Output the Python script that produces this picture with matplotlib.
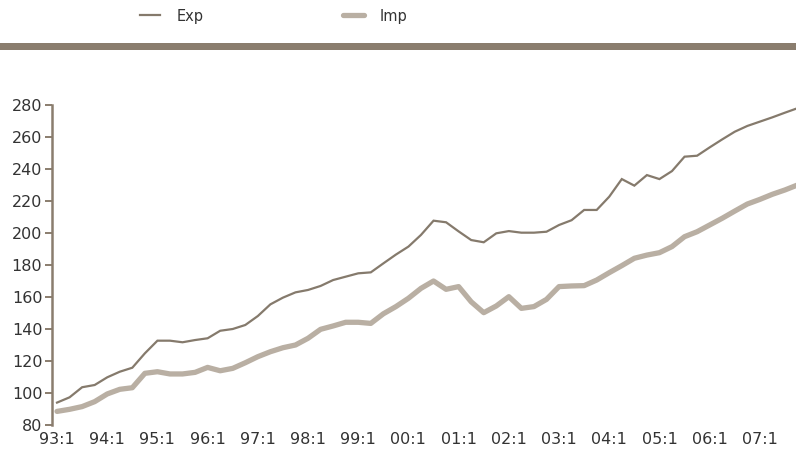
import matplotlib
matplotlib.use('Agg')
import matplotlib.pyplot as plt
from matplotlib.patches import Rectangle

# Quarterly index values, 93:1 .. 07:4
EXP = [
    94.0, 97.3, 103.6, 105.0,
    109.8, 113.3, 115.8, 124.8,
    132.7, 132.7, 131.7, 133.1,
    134.2, 138.9, 140.0, 142.5,
    148.1, 155.4, 159.6, 162.9,
    164.4, 166.9, 170.6, 172.7,
    174.8, 175.4, 181.0, 186.5,
    191.5, 198.8, 207.7, 206.7,
    201.0, 195.6, 194.2, 199.8,
    201.2, 200.2, 200.2, 200.8,
    205.0, 208.0, 214.4, 214.4,
    222.7, 233.7, 229.6, 236.2,
    233.7, 238.7, 247.7, 248.3,
    253.5, 258.5, 263.3, 266.9,
    269.6, 272.3, 275.2, 278.0,
]
IMP = [
    88.5, 89.8, 91.5, 94.6,
    99.4, 102.3, 103.3, 112.3,
    113.3, 111.9, 111.9, 112.9,
    116.0, 113.9, 115.4, 118.9,
    122.7, 125.8, 128.3, 130.0,
    134.2, 139.8, 141.9, 144.2,
    144.2, 143.5, 149.5, 154.0,
    159.2, 165.4, 170.0, 164.8,
    166.5, 157.0, 150.2, 154.4,
    160.2, 152.9, 154.0, 158.5,
    166.5, 166.9, 167.1, 170.6,
    175.2, 179.6, 184.2, 186.2,
    187.7, 191.5, 197.7, 200.8,
    205.0, 209.2, 213.7, 218.1,
    221.0, 224.2, 226.9, 230.0,
]
YEARS = list(range(1993, 2008))
QUARTERS = [f'{y % 100:02d}:{q}' for y in YEARS for q in range(1, 5)]

EXP_COLOR = '#857a6c'
IMP_COLOR = '#b9afa3'
SPINE_COLOR = '#8a7d6e'
TEXT_COLOR = '#333333'

W, H = 796, 455
fig = plt.figure(figsize=(W / 100, H / 100), dpi=100)
ax = fig.add_axes([52 / W, 1 - 425 / H, 745.5 / W, 320 / H])

x = list(range(len(QUARTERS)))
l_exp, = ax.plot(x, EXP, color=EXP_COLOR, lw=1.6, label='Exp',
                 solid_joinstyle='miter')
l_imp, = ax.plot(x, IMP, color=IMP_COLOR, lw=3.8, label='Imp',
                 solid_capstyle='round')

ax.set_xlim(-0.4, 59)
ax.set_ylim(80, 280)
ax.set_yticks(range(80, 281, 20))
ax.set_xticks(x[::4])
ax.set_xticklabels(QUARTERS[::4])

for side in ('top', 'right', 'bottom'):
    ax.spines[side].set_visible(False)
ax.spines['left'].set_color(SPINE_COLOR)
ax.spines['left'].set_linewidth(1.8)
ax.tick_params(axis='y', length=5, width=1.4, color=SPINE_COLOR,
               labelsize=11.5, labelcolor=TEXT_COLOR, pad=2)
ax.tick_params(axis='x', length=0, labelsize=11.5, labelcolor=TEXT_COLOR,
               pad=5)

# header band
fig.add_artist(Rectangle((0, 1 - 50 / H), 1, 7 / H, transform=fig.transFigure,
                         color=SPINE_COLOR, lw=0))

fig.legend(handles=[l_exp, l_imp], loc='center left',
           bbox_to_anchor=(140 / W, 1 - 16 / H), ncol=2, frameon=False,
           borderpad=0, borderaxespad=0, fontsize=10.5,
           handlelength=1.4, handletextpad=1.1, columnspacing=9.6,
           labelcolor=TEXT_COLOR)

fig.savefig('out.png', dpi=100)
